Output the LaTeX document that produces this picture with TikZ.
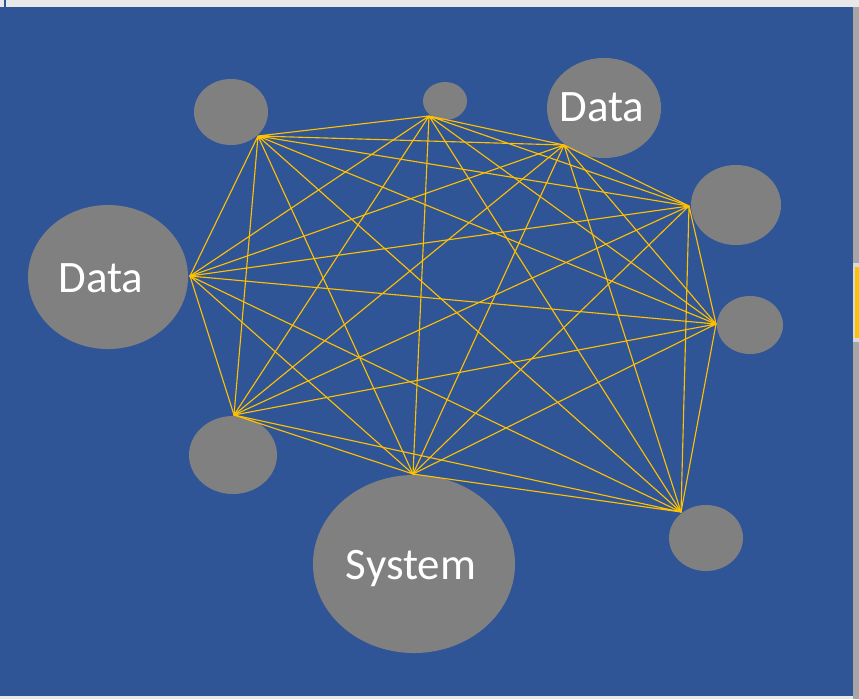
\documentclass[tikz,border=0pt]{standalone}
\usepackage{fontspec}
\setmainfont{Carlito}
\usetikzlibrary{shapes.geometric}
\definecolor{slidec}{HTML}{2F5597}
\definecolor{blobc}{HTML}{808080}
\definecolor{linkc}{HTML}{FFC000}
\definecolor{framec}{HTML}{E8E8E8}
\tikzset{
  blob/.style={ellipse, fill=blobc, inner sep=0pt},
  blobtext/.style={text=white, inner sep=0pt, font=\fontsize{32}{36}\selectfont},
  link/.style={draw=linkc, line width=0.8pt, line cap=round},
}

\begin{document}
\begin{tikzpicture}[x=0.025cm, y=-0.025cm]
\useasboundingbox (0,0) rectangle (859,699);
\fill[framec] (0,0) rectangle (859,699);
\fill[slidec] (0,7) rectangle (853,696);
\fill[blobc!70] (853,7) rectangle (859,699);
\fill[white!85!black] (853,263) rectangle (859,342);
\fill[linkc] (855,267) rectangle (859,338);
\fill[slidec] (4,0) rectangle (6,7);
% blobs
\node[blob, minimum width=1.85cm, minimum height=1.65cm] (tl) at (231,112) {};
\node[blob, minimum width=1.1cm, minimum height=0.95cm] (tm) at (445,101) {};
\node[blob, minimum width=2.85cm, minimum height=2.5cm] (tr) at (604,108) {};
\node[blob, minimum width=2.25cm, minimum height=2cm] (ru) at (736,205) {};
\node[blob, minimum width=1.65cm, minimum height=1.45cm] (rm) at (750,325) {};
\node[blob, minimum width=1.85cm, minimum height=1.65cm] (br) at (706,538) {};
\node[blob, minimum width=5.05cm, minimum height=4.45cm] (sys) at (414,564) {};
\node[blob, minimum width=2.2cm, minimum height=1.95cm] (bl) at (233,455) {};
\node[blob, minimum width=4cm, minimum height=3.6cm] (lf) at (108,277) {};
% texts
\node[blobtext] (trtext) at (602,107) {Data};
\node[blobtext] (systext) at (411,569) {System};
\node[blobtext] (lftext) at (101,278) {Data};
% contact points
\coordinate (a) at (258,136);
\coordinate (b) at (429,116);
\coordinate (c) at (564,145);
\coordinate (d) at (689,206);
\coordinate (e) at (716,324);
\coordinate (f) at (681,512);
\coordinate (g) at (413,474);
\coordinate (h) at (234,415);
\coordinate (i) at (190,276);
% every point to every other
\draw[link] (a) -- (b) (a) -- (c) (a) -- (d) (a) -- (e) (a) -- (f) (a) -- (g) (a) -- (h) (a) -- (i);
\draw[link] (b) -- (c) (b) -- (d) (b) -- (e) (b) -- (f) (b) -- (g) (b) -- (h) (b) -- (i);
\draw[link] (c) -- (d) (c) -- (e) (c) -- (f) (c) -- (g) (c) -- (h) (c) -- (i);
\draw[link] (d) -- (e) (d) -- (f) (d) -- (g) (d) -- (h) (d) -- (i);
\draw[link] (e) -- (f) (e) -- (g) (e) -- (h) (e) -- (i);
\draw[link] (f) -- (g) (f) -- (h) (f) -- (i);
\draw[link] (g) -- (h) (g) -- (i);
\draw[link] (h) -- (i);
\end{tikzpicture}
\end{document}
